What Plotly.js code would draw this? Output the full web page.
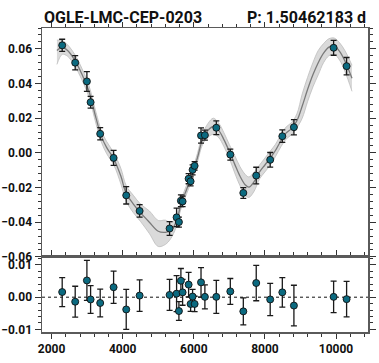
<!DOCTYPE html>
<html>
<head>
<meta charset="utf-8">
<script src="https://cdn.plot.ly/plotly-3.0.1.min.js"></script>
<style>
  html, body { margin: 0; padding: 0; background: #fff; }
  #chart { width: 379px; height: 363px; }
</style>
</head>
<body>
<div id="chart"></div>
<script>
// observations (time in days, value, error)
var obsX = [2298, 2664, 2993, 3097, 3367, 3744, 4099, 4476, 5319, 5516, 5581, 5637, 5685, 5854,
            5910, 5966, 6023, 6203, 6312, 6633, 7027, 7393, 7756, 8149, 8490, 8816, 9933, 10298];
var obsY = [0.0620, 0.0520, 0.0412, 0.0292, 0.0110, -0.0029, -0.0245, -0.0335, -0.0436, -0.0372,
            -0.0399, -0.0276, -0.0280, -0.0149, -0.0164, -0.0098, -0.0075, 0.0100, 0.0102, 0.0145,
            -0.0010, -0.0231, -0.0131, -0.0040, 0.0096, 0.0148, 0.0606, 0.0500];
var obsErr = [0.0035, 0.0041, 0.0057, 0.0034, 0.0035, 0.0043, 0.0050, 0.0036, 0.0040, 0.0053,
              0.0029, 0.0034, 0.0030, 0.0029, 0.0026, 0.0029, 0.0024, 0.0044, 0.0029, 0.0040,
              0.0032, 0.0031, 0.0048, 0.0042, 0.0036, 0.0044, 0.0043, 0.0050];

// residuals
var resY = [0.0016, -0.0014, 0.0052, -0.0007, -0.0018, 0.0031, -0.0038, 0.0005, 0.0007, 0.0011,
            -0.0043, 0.0051, 0.0015, 0.0039, -0.0021, 0.0002, -0.0021, 0.0046, 0.0001, 0.0001,
            0.0018, -0.0044, 0.0044, -0.0007, 0.0015, -0.0026, 0.0001, -0.0006];
var resErr = [0.0045, 0.0048, 0.0062, 0.0043, 0.0043, 0.0050, 0.0062, 0.0049, 0.0048, 0.0056,
              0.0029, 0.0038, 0.0040, 0.0038, 0.0023, 0.0022, 0.0024, 0.0046, 0.0037, 0.0051,
              0.0040, 0.0042, 0.0055, 0.0050, 0.0046, 0.0063, 0.0049, 0.0055];

// model curve with its uncertainty band
var modelX  = [2150, 2300, 2450, 2650, 2850, 3050, 3250, 3400, 3550, 3750, 3950, 4100, 4300, 4500,
               4750, 5000, 5200, 5350, 5500, 5650, 5800, 5950, 6100, 6250, 6400, 6550, 6700, 6850,
               7000, 7150, 7300, 7450, 7550, 7700, 7850, 8000, 8150, 8300, 8450, 8600, 8750, 8900,
               9050, 9200, 9350, 9500, 9650, 9800, 9950, 10100, 10250, 10450];
var modelY  = [0.0590, 0.0608, 0.0590, 0.0535, 0.0455, 0.0355, 0.0200, 0.0095, 0.0030, -0.0035,
               -0.0135, -0.0235, -0.0295, -0.0345, -0.0400, -0.0452, -0.0458, -0.0448, -0.0400,
               -0.0290, -0.0210, -0.0130, -0.0030, 0.0080, 0.0130, 0.0152, 0.0130, 0.0075, 0.0008,
               -0.0065, -0.0135, -0.0185, -0.0198, -0.0165, -0.0110, -0.0070, -0.0030, 0.0015,
               0.0070, 0.0115, 0.0140, 0.0185, 0.0270, 0.0365, 0.0450, 0.0520, 0.0575, 0.0610,
               0.0615, 0.0585, 0.0530, 0.0430];
var modelLo = [0.0510, 0.0568, 0.0557, 0.0502, 0.0422, 0.0322, 0.0167, 0.0062, -0.0005, -0.0070,
               -0.0180, -0.0280, -0.0345, -0.0395, -0.0465, -0.0540, -0.0528, -0.0495, -0.0430,
               -0.0315, -0.0235, -0.0155, -0.0055, 0.0050, 0.0090, 0.0107, 0.0088, 0.0035, -0.0032,
               -0.0115, -0.0190, -0.0245, -0.0257, -0.0220, -0.0150, -0.0110, -0.0070, -0.0020,
               0.0035, 0.0080, 0.0105, 0.0145, 0.0200, 0.0295, 0.0380, 0.0450, 0.0520, 0.0560,
               0.0568, 0.0535, 0.0470, 0.0355];
var modelHi = [0.0650, 0.0648, 0.0623, 0.0568, 0.0488, 0.0388, 0.0233, 0.0128, 0.0065, 0.0000,
               -0.0090, -0.0190, -0.0245, -0.0295, -0.0335, -0.0390, -0.0388, -0.0403, -0.0370,
               -0.0265, -0.0185, -0.0105, -0.0005, 0.0110, 0.0170, 0.0200, 0.0172, 0.0115, 0.0048,
               -0.0015, -0.0080, -0.0125, -0.0139, -0.0110, -0.0070, -0.0030, 0.0010, 0.0050,
               0.0105, 0.0150, 0.0175, 0.0225, 0.0340, 0.0435, 0.0520, 0.0590, 0.0630, 0.0658,
               0.0662, 0.0635, 0.0590, 0.0505];

var starName = 'OGLE-LMC-CEP-0203';
var periodText = 'P: 1.50462183 d';

var topTicks = [-0.06, -0.04, -0.02, 0.00, 0.02, 0.04, 0.06];
var resTicks = [-0.01, 0.00, 0.01];
var xTicks = [2000, 4000, 6000, 8000, 10000];

var FONT = 'Roboto, "DejaVu Sans", sans-serif';
var spine = '#5a5a5a';

var traces = [
    {
        x: modelX, y: modelLo, xaxis: 'x', yaxis: 'y',
        mode: 'lines', line: { color: '#bdbdbd', width: 0.8, shape: 'spline' },
        hoverinfo: 'skip', showlegend: false
    },
    {
        x: modelX, y: modelHi, xaxis: 'x', yaxis: 'y',
        mode: 'lines', line: { color: '#bdbdbd', width: 0.8, shape: 'spline' },
        fill: 'tonexty', fillcolor: 'rgba(205,205,205,0.75)',
        hoverinfo: 'skip', showlegend: false
    },
    {
        x: modelX, y: modelY, xaxis: 'x', yaxis: 'y',
        mode: 'lines', line: { color: '#7a7a7a', width: 1.3, shape: 'spline' },
        showlegend: false
    },
    {
        x: obsX, y: obsY, xaxis: 'x', yaxis: 'y',
        mode: 'markers',
        error_y: { type: 'data', array: obsErr, color: '#1a1a1a', thickness: 1.3, width: 3 },
        marker: { size: 7, color: '#0b6a80', line: { color: '#111', width: 0.9 } },
        showlegend: false
    },
    {
        x: obsX, y: resY, xaxis: 'x2', yaxis: 'y2',
        mode: 'markers',
        error_y: { type: 'data', array: resErr, color: '#1a1a1a', thickness: 1.3, width: 3 },
        marker: { size: 7, color: '#0b6a80', line: { color: '#111', width: 0.9 } },
        showlegend: false
    }
];

var tickFont = { family: FONT, size: 12, color: '#111', weight: 'bold' };

var layout = {
    width: 379,
    height: 363,
    margin: { l: 42, r: 11, t: 28, b: 31 },
    paper_bgcolor: '#fff',
    plot_bgcolor: '#fff',
    showlegend: false,
    xaxis: {
        anchor: 'y',
        side: 'top',
        range: [1730, 10900],
        showgrid: false, zeroline: false,
        showline: true, linecolor: spine, linewidth: 1.5, mirror: true,
        tickvals: xTicks, showticklabels: false,
        ticks: 'outside', ticklen: 5, tickcolor: '#333',
        minor: { dtick: 400, ticks: 'outside', ticklen: 3, tickcolor: '#333' }
    },
    yaxis: {
        domain: [0.247, 1],
        anchor: 'x',
        range: [-0.06, 0.072],
        showgrid: false, zeroline: false,
        showline: true, linecolor: spine, linewidth: 1.5, mirror: 'allticks',
        tickvals: topTicks, tickformat: '.2f',
        ticks: 'outside', ticklen: 6, tickcolor: '#333',
        minor: { dtick: 0.004, ticks: 'outside', ticklen: 3, tickcolor: '#333' },
        tickfont: tickFont
    },
    xaxis2: {
        anchor: 'y2',
        matches: 'x',
        range: [1730, 10900],
        showgrid: false, zeroline: false,
        showline: true, linecolor: spine, linewidth: 1.5, mirror: 'allticks',
        tickvals: xTicks, tickformat: 'd',
        ticks: 'outside', ticklen: 5, tickcolor: '#333',
        minor: { dtick: 400, ticks: 'outside', ticklen: 3, tickcolor: '#333' },
        tickfont: tickFont
    },
    yaxis2: {
        domain: [0, 0.247],
        anchor: 'x2',
        range: [-0.0108, 0.0125],
        showgrid: false, zeroline: false,
        showline: true, linecolor: spine, linewidth: 1.5, mirror: 'allticks',
        tickvals: resTicks, tickformat: '.2f',
        ticks: 'outside', ticklen: 6, tickcolor: '#333',
        minor: { dtick: 0.002, ticks: 'outside', ticklen: 3, tickcolor: '#333' },
        tickfont: tickFont
    },
    shapes: [
        {
            type: 'line', xref: 'x2 domain', yref: 'y2',
            x0: 0, x1: 1, y0: 0, y1: 0,
            line: { color: '#111', width: 1, dash: 'dot' },
            layer: 'below'
        }
    ],
    annotations: [
        {
            xref: 'paper', yref: 'paper', x: 0, y: 1.036,
            xanchor: 'left', yanchor: 'middle', showarrow: false,
            text: starName,
            font: { family: FONT, size: 16, color: '#111', weight: 'bold' }
        },
        {
            xref: 'paper', yref: 'paper', x: 1, y: 1.036,
            xanchor: 'right', yanchor: 'middle', showarrow: false,
            text: periodText,
            font: { family: FONT, size: 16, color: '#111', weight: 'bold' }
        }
    ]
};

Plotly.newPlot('chart', traces, layout, { displayModeBar: false, staticPlot: true });
</script>
</body>
</html>
